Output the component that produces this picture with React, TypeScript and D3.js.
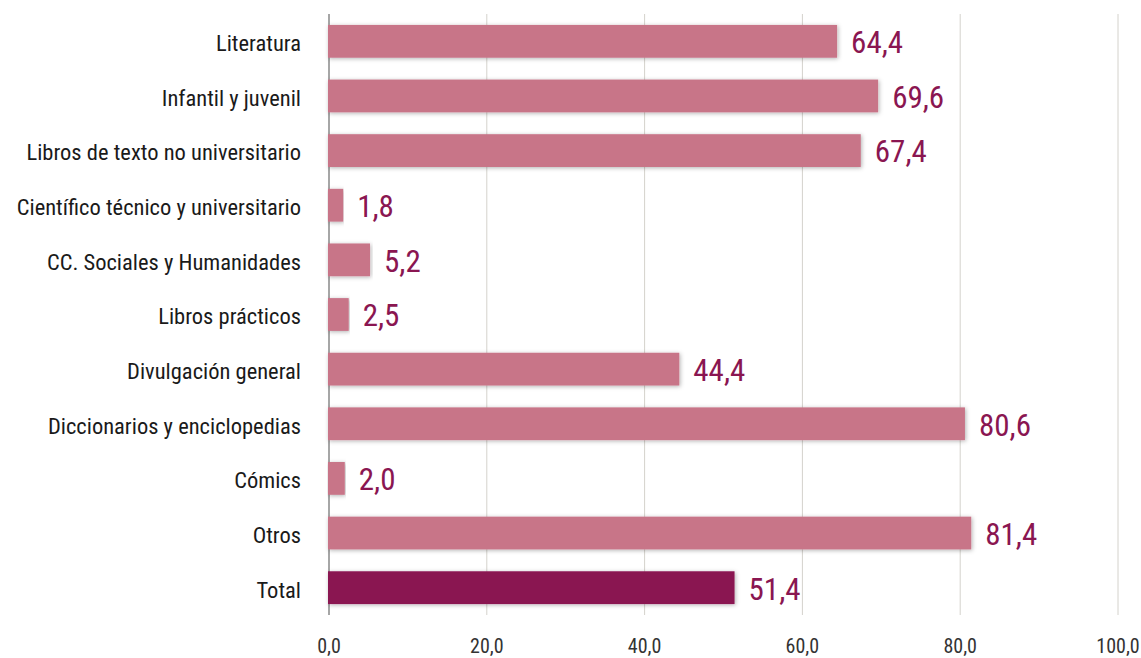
import React from "react";
import * as d3 from "d3";

const categories = [
  "Literatura",
  "Infantil y juvenil",
  "Libros de texto no universitario",
  "Científico técnico y universitario",
  "CC. Sociales y Humanidades",
  "Libros prácticos",
  "Divulgación general",
  "Diccionarios y enciclopedias",
  "Cómics",
  "Otros",
  "Total",
];
const values = [64.4, 69.6, 67.4, 1.8, 5.2, 2.5, 44.4, 80.6, 2.0, 81.4, 51.4];
const ticks = [0, 20, 40, 60, 80, 100];

const W = 1141;
const H = 658;
const FONT = "'Liberation Sans Narrow', 'Arial Narrow', 'Roboto Condensed', sans-serif";
const fmt = (v: number) => v.toFixed(1).replace(".", ",");

export default function App() {
  const x = d3.scaleLinear().domain([0, 100]).range([329, 1118]);
  const y = d3.scaleBand<string>().domain(categories).range([14, 615]).paddingInner(0.4).paddingOuter(0.2);
  return (
    <svg width={W} height={H} style={{ position: "absolute", left: 0, top: 0 }}>
      <defs>
        <filter id="sh" x="-5%" y="-30%" width="110%" height="160%">
          <feDropShadow dx="1" dy="1" stdDeviation="2" floodColor="#000" floodOpacity="0.3" />
        </filter>
      </defs>
      {ticks.map((t) => (
        <line key={t} x1={x(t)} x2={x(t)} y1={14} y2={615} stroke={t === 0 ? "#888" : "#d4d2cc"} strokeWidth={t === 0 ? 1.5 : 1} />
      ))}
      {categories.map((c, i) => (
        <rect
          key={c}
          x={x(0) - 1}
          y={y(c)}
          width={x(values[i]) - x(0) + 1}
          height={y.bandwidth()}
          fill={c === "Total" ? "#8a1651" : "#c87488"}
          filter="url(#sh)"
        />
      ))}
      {categories.map((c, i) => (
        <text key={c} x={301} y={(y(c) as number) + y.bandwidth() / 2 + 2} dy="0.35em" textAnchor="end" fontFamily={FONT} fontSize={22.5} fill="#1a1a1a">
          {c}
        </text>
      ))}
      {categories.map((c, i) => (
        <text key={c} x={x(values[i]) + 14} y={(y(c) as number) + y.bandwidth() / 2 + 1} dy="0.35em" fontFamily={FONT} fontSize={31} fill="#8a1651">
          {fmt(values[i])}
        </text>
      ))}
      {ticks.map((t) => (
        <text key={t} x={x(t)} y={646} dy="0.35em" textAnchor="middle" fontFamily={FONT} fontSize={20} fill="#333">
          {fmt(t)}
        </text>
      ))}
    </svg>
  );
}
